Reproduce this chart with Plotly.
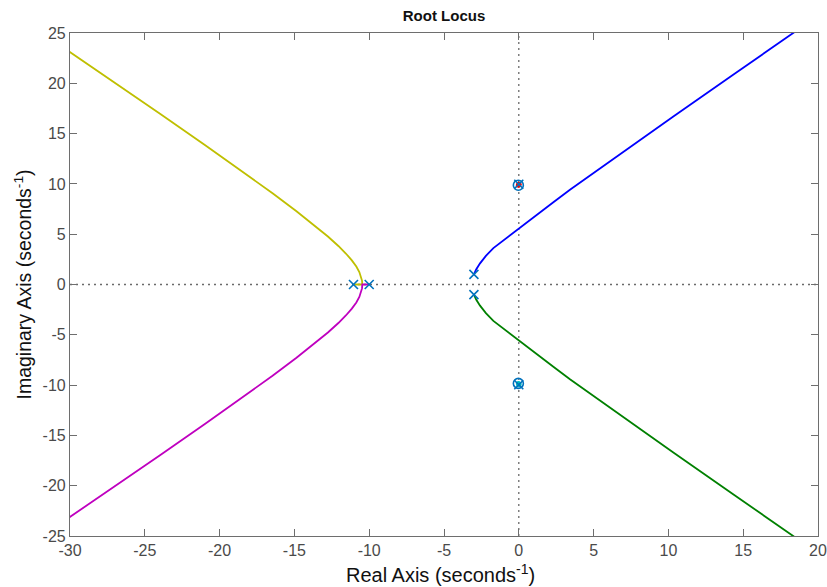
import plotly.graph_objects as go

# Open-loop poles and zeros (real, imaginary)
pole_re = [-3.0, -3.0, -10.0, -11.05, 0.0, 0.0]
pole_im = [1.0, -1.0, 0.0, 0.0, 9.97, -9.97]
zero_re = [-0.03, -0.03]
zero_im = [9.87, -9.83]

# Locus branches (real part, imaginary part) traced as gain increases
blue_re = [-3.0, -2.85, -2.59, -2.2, -1.7, -0.81, 0.03, 1.19, 2.31, 3.42, 4.71, 7.5, 10.33, 14.4, 18.46, 19.5]
blue_im = [1.0, 1.5, 2.1, 2.85, 3.62, 4.65, 5.6, 6.9, 8.18, 9.42, 10.78, 13.75, 16.7, 20.92, 25.13, 26.2]

green_re = [-3.0, -2.85, -2.59, -2.2, -1.7, -0.81, 0.03, 1.19, 2.31, 3.42, 4.71, 7.5, 10.33, 14.4, 18.46, 19.5]
green_im = [-1.0, -1.5, -2.1, -2.85, -3.62, -4.65, -5.6, -6.9, -8.18, -9.42, -10.78, -13.75, -16.7, -20.92, -25.13, -26.2]

yellow_re = [-11.05, -10.46, -10.48, -10.54, -10.66, -10.86, -11.16, -11.56, -12.06, -12.76,
             -13.66, -14.86, -16.46, -18.46, -20.96, -23.96, -26.96, -30.0, -31.0]
yellow_im = [0.0, 0.0, 0.39, 0.78, 1.24, 1.78, 2.40, 3.08, 3.83, 4.77,
             5.88, 7.28, 9.07, 11.23, 13.85, 16.95, 20.02, 23.08, 24.12]

magenta_re = [-10.0, -10.46, -10.48, -10.54, -10.66, -10.86, -11.16, -11.56, -12.06, -12.76,
              -13.66, -14.86, -16.46, -18.46, -20.96, -23.96, -26.96, -30.0, -31.0]
magenta_im = [0.0, 0.0, -0.39, -0.78, -1.24, -1.78, -2.40, -3.08, -3.83, -4.77,
              -5.88, -7.28, -9.07, -11.23, -13.85, -16.95, -20.02, -23.08, -24.12]

red_re = [0.0, 0.02, -0.03]
red_im = [9.97, 9.93, 9.87]

cyan_re = [0.0, 0.02, -0.03]
cyan_im = [-9.97, -9.90, -9.83]

x_ticks = [-30, -25, -20, -15, -10, -5, 0, 5, 10, 15, 20]
y_ticks = [-25, -20, -15, -10, -5, 0, 5, 10, 15, 20, 25]

FONT = "Liberation Sans, Arial, Helvetica, sans-serif"

fig = go.Figure()

# Dotted reference lines through the origin
for x0, x1, y0, y1 in [(-30, 20, 0, 0), (0, 0, -25, 25)]:
    fig.add_shape(type="line", xref="x", yref="y", x0=x0, x1=x1, y0=y0, y1=y1,
                  line=dict(color="#6a6a6a", width=1.3, dash="2px,4px"), layer="below")

branches = [
    (blue_re, blue_im, "#0000FF"),
    (green_re, green_im, "#008000"),
    (yellow_re, yellow_im, "#BFBF00"),
    (magenta_re, magenta_im, "#BF00BF"),
]
for re, im, col in branches:
    fig.add_trace(go.Scatter(x=re, y=im, mode="lines",
                             line=dict(color=col, width=1.8),
                             hoverinfo="skip", showlegend=False))

for re, im, col in [(red_re, red_im, "#FF0000"), (cyan_re, cyan_im, "#00BFBF")]:
    fig.add_trace(go.Scatter(x=re, y=im, mode="lines+markers",
                             line=dict(color=col, width=3),
                             marker=dict(color=col, size=5),
                             hoverinfo="skip", showlegend=False))

# Zeros (o) and poles (x)
fig.add_trace(go.Scatter(x=zero_re, y=zero_im, mode="markers",
                         marker=dict(symbol="circle-open", size=10, color="#0072BD",
                                     line=dict(width=1.6, color="#0072BD")),
                         showlegend=False))
fig.add_trace(go.Scatter(x=pole_re, y=pole_im, mode="markers",
                         marker=dict(symbol="x-thin-open", size=9, color="#0072BD",
                                     line=dict(width=1.6, color="#0072BD")),
                         showlegend=False))

axis_common = dict(
    showgrid=False, zeroline=False, showline=True, linecolor="#6e6e6e", linewidth=1.2,
    mirror="ticks", ticks="inside", ticklen=7, tickwidth=1, tickcolor="#6e6e6e",
    automargin=False,
    tickfont=dict(family=FONT, size=16, color="#4a4a4a"),
)

fig.update_layout(
    width=827, height=587,
    margin=dict(l=70, r=9, t=33, b=51, autoexpand=False),
    paper_bgcolor="white", plot_bgcolor="white",
    font=dict(family=FONT),
    title=dict(text="<b>Root Locus</b>", x=(70 + 818) / 2 / 827, xanchor="center",
               y=1 - 16 / 587, yanchor="middle",
               font=dict(family=FONT, size=15, color="#111111")),
    xaxis=dict(axis_common, range=[-30, 20], tickvals=x_ticks,
               ticktext=[str(v) for v in x_ticks]),
    yaxis=dict(axis_common, range=[-25, 25], tickvals=y_ticks,
               ticktext=[str(v) for v in y_ticks]),
    annotations=[
        dict(text="Real Axis (seconds<sup>-1</sup>)", xref="paper", yref="paper",
             x=(440 - 70) / 748, y=-37 / 503, xanchor="center", yanchor="middle", showarrow=False,
             font=dict(family=FONT, size=20, color="#111111")),
        dict(text="Imaginary Axis (seconds<sup>-1</sup>)", xref="paper", yref="paper",
             x=-48 / 748, y=0.5, xanchor="center", yanchor="middle", showarrow=False,
             textangle=-90, font=dict(family=FONT, size=19.5, color="#111111")),
    ],
)

fig.write_html("out.html")
